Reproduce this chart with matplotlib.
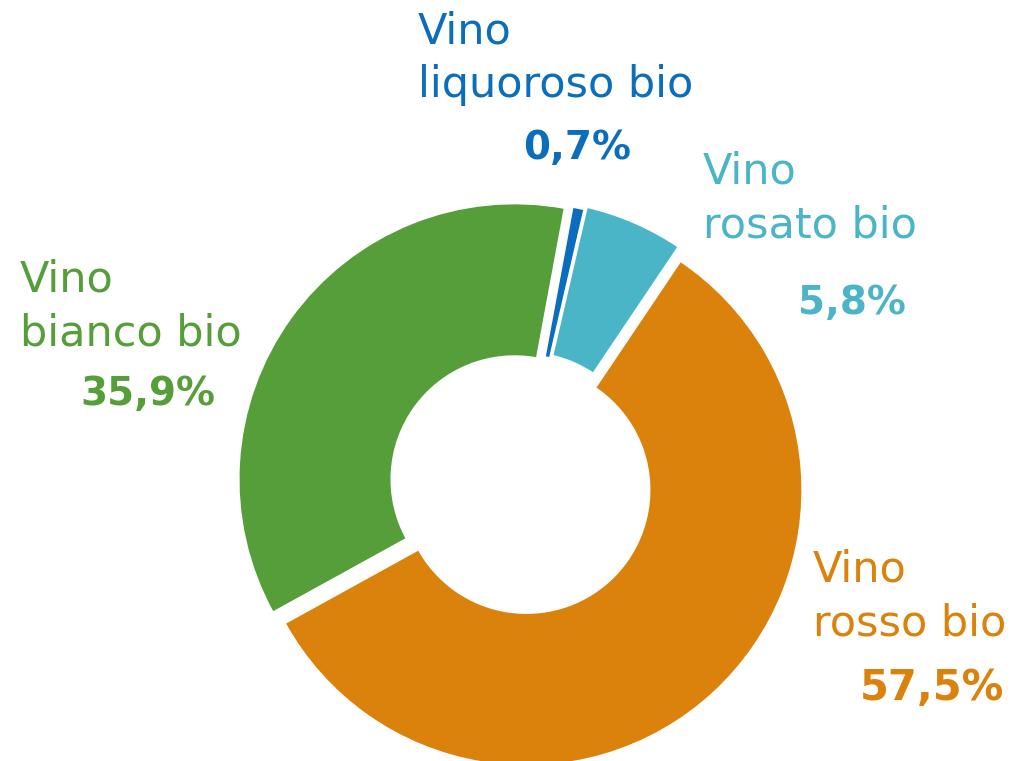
import matplotlib
matplotlib.use("Agg")
import matplotlib.pyplot as plt

categories = ["Vino\nliquoroso bio", "Vino\nrosato bio", "Vino\nrosso bio", "Vino\nbianco bio"]
values = [0.7, 5.8, 57.5, 35.9]
pct_labels = ["0,7%", "5,8%", "57,5%", "35,9%"]
colors = ["#0A6EBD", "#4BB5C8", "#DA820B", "#559E3A"]

W, H = 1016, 761
fig = plt.figure(figsize=(W / 100, H / 100), dpi=100)
ax = fig.add_axes([0, 0, 1, 1])

R = 276
cx, cy = 521, H - 484
ax.pie(values, colors=colors, startangle=79.5, counterclock=False,
       radius=R, center=(cx, cy), explode=[6, 9, 8, 8],
       wedgeprops=dict(width=153, edgecolor="white", linewidth=1.5),
       frame=True)
ax.set_xlim(0, W)
ax.set_ylim(0, H)
ax.set_aspect("equal")
ax.axis("off")

fs = 31
# label positions (pixel coords from top)
lab_pos = [(418, 10), (703, 151), (813, 549), (20, 259)]
pct_pos = [(577, 148), (852, 303), (932, 688), (148, 394)]
pct_fs = [28, 28, 30, 28]
for i in range(4):
    x, y = lab_pos[i]
    ax.text(x, H - y, categories[i], color=colors[i], fontsize=fs,
            ha="left", va="top", linespacing=1.35, family="DejaVu Sans")
    px, py = pct_pos[i]
    ax.text(px, H - py, pct_labels[i], color=colors[i], fontsize=pct_fs[i],
            fontweight="bold", ha="center", va="center", family="DejaVu Sans")

fig.savefig("out.png", dpi=100)
